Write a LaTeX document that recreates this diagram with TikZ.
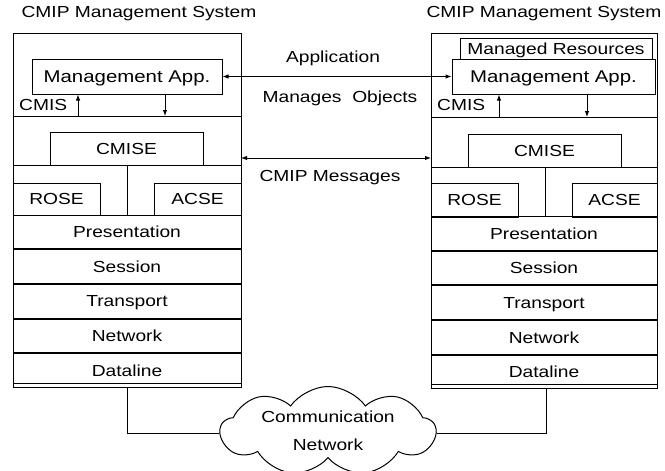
\documentclass[tikz,border=0pt]{standalone}
\usepackage{fontspec}
\setmainfont{Liberation Sans}[FakeStretch=1.2]
\usetikzlibrary{arrows.meta,shapes.symbols}

\tikzset{
  frame/.style={draw, line width=1pt, inner sep=0pt},
  blk/.style={draw, line width=1pt, inner sep=0pt, text height=14pt, text depth=2.5pt,
              font=\fontsize{16}{19}\selectfont},
  layer/.style={blk, minimum width=#1, minimum height=33.6pt},
  lbl/.style={inner sep=0pt, font=\fontsize{16}{19}\selectfont},
  title/.style={inner sep=0pt, font=\fontsize{16}{19}\selectfont},
  wire/.style={line width=1pt},
  dbl/.style={line width=1pt, {Latex[length=6pt,width=4.5pt]}-{Latex[length=6pt,width=4.5pt]}},
  one/.style={line width=1pt, -{Latex[length=6pt,width=4.5pt]}},
}

\begin{document}
\begin{tikzpicture}[x=1pt, y=-1pt]
\useasboundingbox (0,0) rectangle (665,471);

% ---------------- left management system ----------------
\node[title] (tl) at (139,14) {CMIP Management System};
\node[frame, minimum width=228pt, minimum height=350pt] (L) at (127,208) {};
\node[blk, minimum width=190pt, minimum height=35pt, font=\fontsize{17}{20}\selectfont]
  (Lapp) at (127,76.5) {Management App.};
\node[lbl, anchor=west] (Lcmis) at (19,105) {CMIS};
\coordinate (Lsep1w) at (13,116);
\coordinate (Lsep1e) at (241,116);
\draw[wire] (Lsep1w) -- (Lsep1e);
\coordinate (Lup) at (78,116);
\coordinate (Ldn) at (165,116);
\draw[one] (Lup) -- (Lup |- Lapp.south);
\draw[one] (Ldn |- Lapp.south) -- (Ldn);
\node[blk, minimum width=153pt, minimum height=33pt] (Lcmise) at (126.5,148.5) {CMISE};
\coordinate (Lsep2w) at (13,165);
\coordinate (Lsep2e) at (241,165);
\draw[wire] (Lsep2w) -- (Lsep2e);
\node[blk, minimum width=87pt, minimum height=32pt] (Lrose) at (56.5,199) {ROSE};
\node[blk, minimum width=87pt, minimum height=32pt] (Lacse) at (197.5,199) {ACSE};
\coordinate (Lmid) at (127,165);
\node[layer=228pt] (Lpre) at (127,232) {Presentation};
\draw[wire] (Lmid) -- (Lmid |- Lpre.north);
\node[layer=228pt, anchor=north] (Lses) at (Lpre.south) {Session};
\node[layer=228pt, anchor=north] (Ltra) at (Lses.south) {Transport};
\node[layer=228pt, anchor=north] (Lnet) at (Ltra.south) {Network};
\node[layer=228pt, anchor=north] (Ldat) at (Lnet.south) {Dataline};

% ---------------- right management system ----------------
\node[title] (tr) at (544,14) {CMIP Management System};
\node[frame, minimum width=226pt, minimum height=351pt] (R) at (544,208.5) {};
\node[blk, minimum width=192pt, minimum height=21pt, text height=11.5pt, text depth=0pt]
  (Rres) at (556,48.5) {Managed Resources};
\node[blk, minimum width=203pt, minimum height=35pt, font=\fontsize{17}{20}\selectfont]
  (Rapp) at (553.5,76.5) {Management App.};
\node[lbl, anchor=west] (Rcmis) at (437,105) {CMIS};
\coordinate (Rsep1w) at (431,117);
\coordinate (Rsep1e) at (657,117);
\draw[wire] (Rsep1w) -- (Rsep1e);
\coordinate (Rup) at (499,117);
\coordinate (Rdn) at (587,117);
\draw[one] (Rup) -- (Rup |- Rapp.south);
\draw[one] (Rdn |- Rapp.south) -- (Rdn);
\node[blk, minimum width=153pt, minimum height=33pt] (Rcmise) at (544.5,150.5) {CMISE};
\coordinate (Rsep2w) at (431,167);
\coordinate (Rsep2e) at (657,167);
\draw[wire] (Rsep2w) -- (Rsep2e);
\node[blk, minimum width=87pt, minimum height=34pt] (Rrose) at (474.5,200) {ROSE};
\node[blk, minimum width=85pt, minimum height=34pt] (Racse) at (614.5,200) {ACSE};
\coordinate (Rmid) at (545,167);
\node[layer=226pt] (Rpre) at (544,233.5) {Presentation};
\draw[wire] (Rmid) -- (Rmid |- Rpre.north);
\node[layer=226pt, anchor=north] (Rses) at (Rpre.south) {Session};
\node[layer=226pt, anchor=north] (Rtra) at (Rses.south) {Transport};
\node[layer=226pt, anchor=north] (Rnet) at (Rtra.south) {Network};
\node[layer=226pt, anchor=north] (Rdat) at (Rnet.south) {Dataline};

% ---------------- peer exchanges ----------------
\node[lbl] (app) at (333,58) {Application};
\draw[dbl] (Lapp.east) -- (Rapp.west);
\node[lbl] (mo) at (340,98) {Manages\ \ Objects};
\coordinate (Lmsg) at (241,158);
\coordinate (Rmsg) at (431,158);
\draw[dbl] (Lmsg) -- (Rmsg);
\node[lbl] (msg) at (330,178) {CMIP Messages};

% ---------------- communication network ----------------
\node[cloud, draw, line width=1pt, cloud puffs=9, cloud puff arc=110, aspect=3.2,
      minimum width=215pt, minimum height=70pt, inner sep=0pt,
      align=center, font=\fontsize{16}{29}\selectfont] (net) at (328,431)
      {Communication\\[-1pt]Network};
\coordinate (Lbend) at (127,433);
\coordinate (Rbend) at (546,433);
\draw[wire] (Ldat.south) -- (Lbend) -- (Lbend -| net.west);
\draw[wire] (Rdat.south -| Rbend) -- (Rbend) -- (Rbend -| net.east);
\end{tikzpicture}
\end{document}
